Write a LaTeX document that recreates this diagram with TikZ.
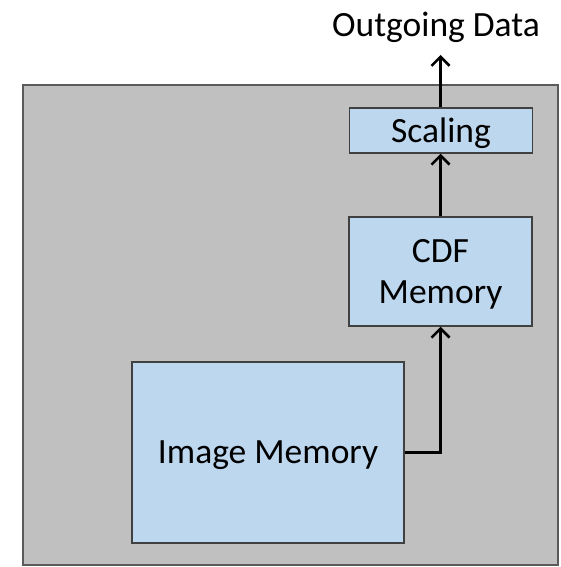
\documentclass[tikz,border=0pt]{standalone}
\usepackage{fontspec}
\setmainfont{Carlito}
\usetikzlibrary{arrows.meta}
\definecolor{panelgray}{HTML}{C0C0C0}
\definecolor{panelborder}{HTML}{5A5A5A}
\definecolor{boxblue}{HTML}{BDD7EE}
\definecolor{boxborder}{HTML}{404040}
\begin{document}
\begin{tikzpicture}[x=1pt,y=-1pt,
  every node/.style={font=\fontsize{35.5}{41}\selectfont, inner sep=0pt, text depth=0pt},
  panel/.style={draw=panelborder, fill=panelgray, line width=2.2pt},
  blockbox/.style={draw=boxborder, fill=boxblue, line width=1.5pt, align=center},
  flow/.style={line width=3pt, -{Straight Barb[length=9pt,width=18pt,line width=2.6pt]}}
]
\useasboundingbox (0,0) rectangle (560,567);
\draw[panel] (23,85) rectangle (558,565);
\node[blockbox, minimum width=183pt, minimum height=45pt] (scal) at (441,130.5) {Scaling};
\node[blockbox, minimum width=183pt, minimum height=109pt] (cdf) at (440.5,271.5) {CDF\\Memory};
\node[blockbox, minimum width=272pt, minimum height=181pt] (img) at (268,452.5) {Image Memory};
\node (title) at (436,24) {Outgoing Data};
\coordinate (outend) at (440.5,55);
\draw[flow] (img.east) -| (cdf.south);
\draw[flow] (cdf.north) -- (scal.south -| cdf.north);
\draw[flow] (scal.north -| cdf.north) -- (outend);
\end{tikzpicture}
\end{document}
